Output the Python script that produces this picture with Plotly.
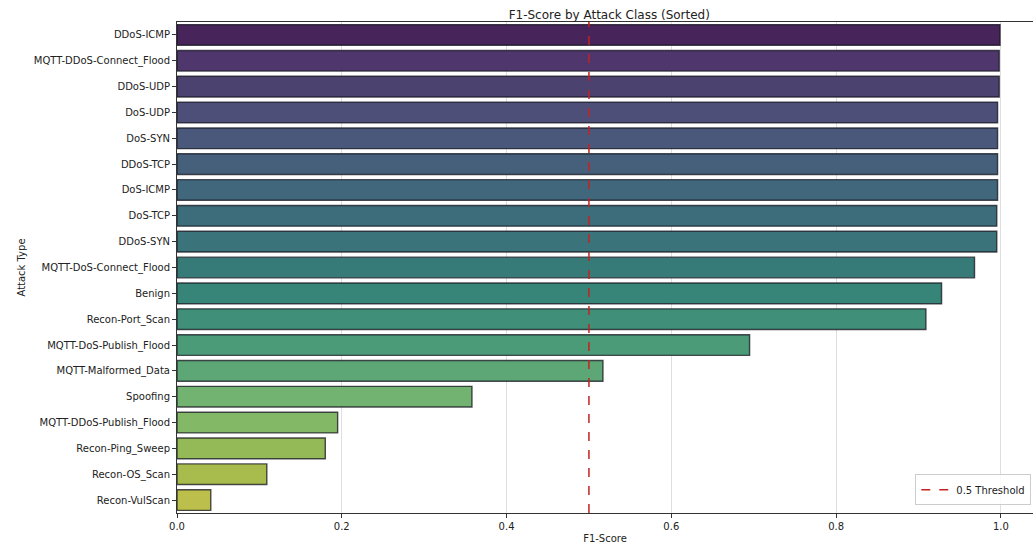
import colorsys
import plotly.graph_objects as go
from plotly.colors import sample_colorscale, unlabel_rgb

# F1-score per attack class, already sorted from best to worst
attack_types = [
    "DDoS-ICMP", "MQTT-DDoS-Connect_Flood", "DDoS-UDP", "DoS-UDP", "DoS-SYN",
    "DDoS-TCP", "DoS-ICMP", "DoS-TCP", "DDoS-SYN", "MQTT-DoS-Connect_Flood",
    "Benign", "Recon-Port_Scan", "MQTT-DoS-Publish_Flood", "MQTT-Malformed_Data",
    "Spoofing", "MQTT-DDoS-Publish_Flood", "Recon-Ping_Sweep", "Recon-OS_Scan",
    "Recon-VulScan",
]
f1_scores = [
    0.999, 0.998, 0.998, 0.996, 0.996,
    0.996, 0.996, 0.995, 0.995, 0.968,
    0.928, 0.909, 0.695, 0.517,
    0.358, 0.195, 0.180, 0.109,
    0.041,
]
threshold = 0.5
x_ticks = [0.0, 0.2, 0.4, 0.6, 0.8, 1.0]


def muted(rgb_str, sat=0.62, light=0.93):
    r, g, b = [c / 255 for c in unlabel_rgb(rgb_str)]
    h, l, s = colorsys.rgb_to_hls(r, g, b)
    l = min(l, 0.5) + (l - min(l, 0.5)) * light if l > 0.5 else l * (1.08 if l < 0.3 else 1.0)
    r, g, b = colorsys.hls_to_rgb(h, min(l, 1.0), s * sat)
    return f"rgb({r*255:.0f},{g*255:.0f},{b*255:.0f})"


n = len(attack_types)
positions = [(i + 1) / (n + 1) for i in range(n)]
bar_colors = [muted(c) for c in sample_colorscale("Viridis", positions)]

fig = go.Figure()
fig.add_trace(go.Bar(
    x=f1_scores,
    y=attack_types,
    orientation="h",
    marker=dict(color=bar_colors, line=dict(color="rgba(20,20,30,0.75)", width=1.4)),
    showlegend=False,
    hoverinfo="x+y",
))
fig.add_trace(go.Scatter(
    x=[threshold, threshold],
    y=[0, 1],
    yaxis="y2",
    mode="lines",
    line=dict(color="rgb(195,35,35)", width=1.5, dash="dash"),
    name="0.5 Threshold",
    showlegend=True,
))

font_family = "DejaVu Sans, Liberation Sans, sans-serif"
fig.update_layout(
    width=1033,
    height=544,
    margin=dict(l=177, r=0, t=22, b=31, autoexpand=False),
    paper_bgcolor="white",
    plot_bgcolor="white",
    font=dict(family=font_family, size=10, color="#222"),
    bargap=0.2,
    title=dict(
        text="F1-Score by Attack Class (Sorted)",
        x=0.505, xanchor="center", xref="paper",
        y=0.972, yanchor="middle",
        font=dict(size=12, color="#222"),
    ),
    xaxis=dict(
        range=[0, 1.039],
        tickvals=x_ticks,
        ticktext=[f"{v:.1f}" for v in x_ticks],
        showgrid=True, gridcolor="rgba(0,0,0,0.13)", gridwidth=1,
        showline=True, linecolor="#333", linewidth=1, mirror=True,
        ticks="outside", ticklen=4, tickcolor="#333",
        zeroline=False,
        title=dict(text="F1-Score", font=dict(size=10), standoff=6),
    ),
    yaxis=dict(
        categoryorder="array",
        categoryarray=attack_types,
        range=[n - 0.5, -0.5],
        autorange=False,
        showgrid=False,
        showline=True, linecolor="#333", linewidth=1,
        ticks="outside", ticklen=4, tickcolor="#333",
        title=dict(text="Attack Type", font=dict(size=10), standoff=6),
        zeroline=False,
    ),
    yaxis2=dict(
        overlaying="y", range=[0, 1], visible=False, fixedrange=True,
    ),
    legend=dict(
        x=0.998, y=0.016, xanchor="right", yanchor="bottom",
        bgcolor="rgba(255,255,255,0.85)",
        bordercolor="#ccc", borderwidth=1,
        font=dict(size=10),
    ),
)

fig.write_html("out.html")
